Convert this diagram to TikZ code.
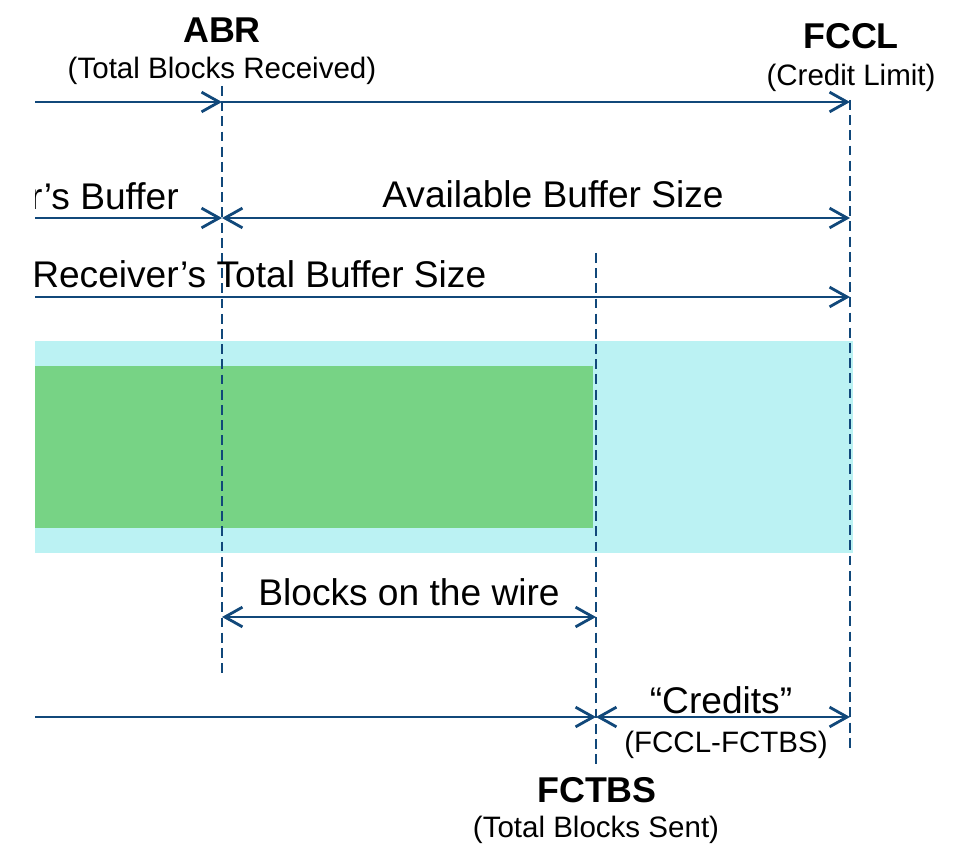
\documentclass[tikz,border=0pt]{standalone}
\usepackage{fontspec}
\setmainfont{Liberation Sans}
\usetikzlibrary{arrows.meta}

\definecolor{lineblue}{RGB}{17,72,122}
\definecolor{bufcyan}{RGB}{187,242,243}
\definecolor{blkgreen}{RGB}{119,211,133}

\tikzset{
  flow/.style={lineblue, line width=2pt},
  marker/.style={lineblue, line width=1.9pt, dash pattern=on 7pt off 3.8pt},
  big/.style={font=\fontsize{26.4}{31}\selectfont, inner sep=0pt, anchor=base},
  bold/.style={big, font=\fontsize{25.5}{30}\selectfont\bfseries},
  small/.style={font=\fontsize{21}{25}\selectfont, inner sep=0pt, anchor=base},
}

\begin{document}
\begin{tikzpicture}[x=0.025cm, y=-0.025cm, >={Straight Barb[length=12.5pt,width=14pt]}]
    \useasboundingbox (0,0) rectangle (954,846);
    \clip (35,0) rectangle (954,846);

    % buffer and the blocks in it
    \fill[bufcyan] (35,341) rectangle (853,553);
    \fill[blkgreen] (35,366) rectangle (593,528);

    % counters
    \coordinate (edge) at (35,0);
    \coordinate (abr top) at (222,86);   \coordinate (abr bot) at (222,675);
    \coordinate (fctbs top) at (596,253); \coordinate (fctbs bot) at (596,767);
    \coordinate (fccl top) at (850,100);  \coordinate (fccl bot) at (850,748);
    \draw[marker] (abr top) -- (abr bot);
    \draw[marker] (fctbs top) -- (fctbs bot);
    \draw[marker] (fccl top) -- (fccl bot);

    % rows of the arrows
    \foreach \n/\y in {r1/102, r2/218, r3/297, r4/617, r5/717}
        \coordinate (\n) at (0,\y);

    \draw[flow,->] (edge |- r1) -- (abr top |- r1);
    \draw[flow,->] (abr top |- r1) -- (fccl top |- r1);
    \draw[flow,->] (edge |- r2) -- (abr top |- r2);
    \draw[flow,<->] (abr top |- r2) -- (fccl top |- r2);
    \draw[flow,->] (edge |- r3) -- (fccl top |- r3);
    \draw[flow,<->] (abr top |- r4) -- (fctbs top |- r4);
    \draw[flow,->] (edge |- r5) -- (fctbs top |- r5);
    \draw[flow,<->] (fctbs top |- r5) -- (fccl top |- r5);

    % labels
    \node[bold] (abr) at (222,43) {ABR};
    \node[small] (abr note) at (222,79) {(Total Blocks Received)};
    \node[bold] (fccl) at (851,49) {FCCL};
    \node[small] (fccl note) at (851,86) {(Credit Limit)};
    \node[big, anchor=base east] (own buf) at (179,210) {r’s Buffer};
    \node[big] (avail) at (553,208) {Available Buffer Size};
    \node[big, anchor=base west] (total) at (32,288) {Receiver’s Total Buffer Size};
    \node[big] (wire) at (409,605) {Blocks on the wire};
    \node[big] (credits) at (721,713) {“Credits”};
    \node[small] (credits note) at (726,752) {(FCCL-FCTBS)};
    \node[bold] (fctbs) at (597,802) {FCTBS};
    \node[small] (fctbs note) at (596,837) {(Total Blocks Sent)};
\end{tikzpicture}
\end{document}
